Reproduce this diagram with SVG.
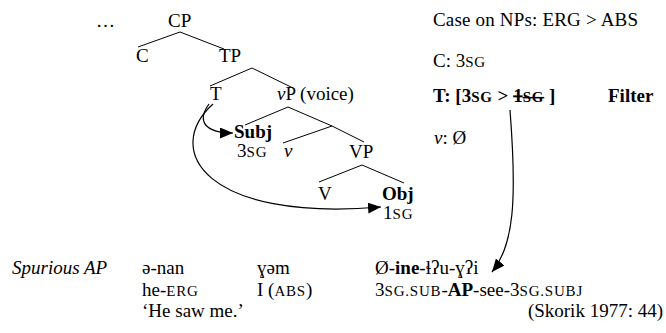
<svg xmlns="http://www.w3.org/2000/svg" width="666" height="333" viewBox="0 0 666 333">
<defs>
<style>
text{font-family:"Liberation Serif","DejaVu Serif",serif;font-size:19px;fill:#000}
.b{font-weight:bold}
.i{font-style:italic}
.sc{font-size:15px;letter-spacing:0.8px}
.br{stroke:#000;stroke-width:1;fill:none}
.arc{stroke:#000;stroke-width:1.2;fill:none;marker-end:url(#ah)}
</style>
<marker id="ah" markerUnits="userSpaceOnUse" markerWidth="14" markerHeight="12" refX="13" refY="5.5" orient="auto">
<path d="M0,0 L13,5.5 L0,11 z" fill="#000"/>
</marker>
</defs>
<rect width="666" height="333" fill="#fff"/>
<g id="tree-lines">
<path class="br" d="M138,47 L180,32 L224,49"/>
<path class="br" d="M210,86 L252,68 L293,88"/>
<path class="br" d="M245,125 L288,107 L332,126"/>
<path class="br" d="M283,143 L332,126 L364,142"/>
<path class="br" d="M319,182 L362,165 L404,183"/>
</g>
<g id="dots"><text x="96" y="27">…</text></g>
<g id="CP"><text x="168" y="27">CP</text></g>
<g id="C"><text x="136" y="62">C</text></g>
<g id="TP"><text x="219" y="62">TP</text></g>
<g id="T"><text x="210" y="100">T</text></g>
<g id="vP"><text x="277" y="100"><tspan class="i">v</tspan>P (voice)</text></g>
<g id="Subj"><text x="234" y="138" class="b">Subj</text><text x="237" y="157">3<tspan class="sc">SG</tspan></text></g>
<g id="v"><text x="284" y="157" class="i">v</text></g>
<g id="VP"><text x="349" y="158">VP</text></g>
<g id="V"><text x="318" y="200">V</text></g>
<g id="Obj"><text x="382" y="200" class="b">Obj</text><text x="383" y="219">1<tspan class="sc">SG</tspan></text></g>
<g id="notes">
<text x="433" y="26" textLength="205" lengthAdjust="spacing">Case on NPs: ERG &gt; ABS</text>
<text x="433" y="67">C: 3<tspan class="sc">SG</tspan></text>
<text x="433" y="102" class="b">T: [3<tspan class="sc">SG</tspan> &gt; <tspan text-decoration="line-through">1<tspan class="sc">SG</tspan></tspan> ]</text>
<text x="608" y="102" class="b">Filter</text>
<text x="434" y="144"><tspan class="i">v</tspan>: Ø</text>
</g>
<g id="connectors">
<path class="arc" d="M209,104 C196,122 206,133 233,133"/>
<path class="arc" d="M213,104 C162,150 205,222 381,207"/>
<path class="arc" d="M510,110 C517,200 514,245 492,272"/>
</g>
<g id="example">
<text x="12" y="274" class="i">Spurious AP</text>
<text x="142" y="274">ə-nan</text>
<text x="257" y="274">ɣəm</text>
<text x="375" y="274">Ø-<tspan class="b">ine</tspan>-ɬʔu-ɣʔi</text>
<text x="142" y="296">he-<tspan class="sc">ERG</tspan></text>
<text x="257" y="296">I (<tspan class="sc">ABS</tspan>)</text>
<text x="375" y="296">3<tspan class="sc">SG.SUB</tspan>-<tspan class="b">AP</tspan>-see-3<tspan class="sc">SG.SUBJ</tspan></text>
<text x="142" y="317">‘He saw me.’</text>
<text x="663" y="317" text-anchor="end">(Skorik 1977: 44)</text>
</g>
</svg>
